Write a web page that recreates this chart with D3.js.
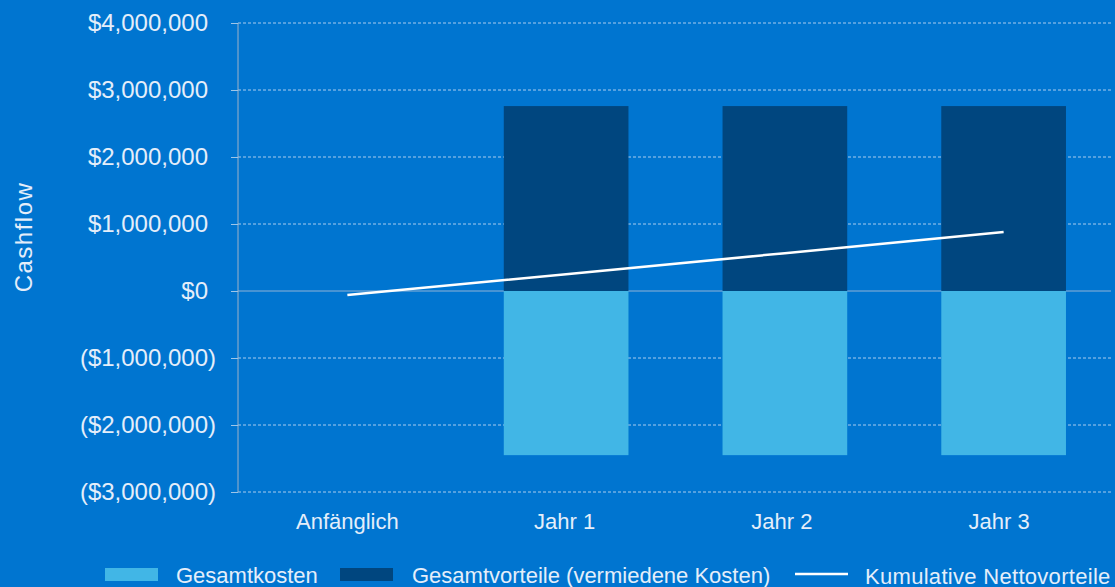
<!DOCTYPE html>
<html>
<head>
<meta charset="utf-8">
<script src="https://cdn.jsdelivr.net/npm/d3@7"></script>
<style>
  body { margin: 0; background: #0075d0; }
  svg { display: block; font-family: "Liberation Sans", Arial, sans-serif; }
</style>
</head>
<body>
<svg></svg>
<script>
// Data
const categories = ['Anfänglich', 'Jahr 1', 'Jahr 2', 'Jahr 3'];
const kosten = [0, -2450000, -2450000, -2450000];
const vorteile = [0, 2760000, 2760000, 2760000];
const kumulativ = [-60000, 250000, 565000, 880000];
const yTicks = [-3000000, -2000000, -1000000, 0, 1000000, 2000000, 3000000, 4000000];

const width = 1115, height = 587;
const margin = {top: 23, right: 2, bottom: 95, left: 238};
const textColor = '#e4eefa';

const svg = d3.select('svg')
    .attr('width', width)
    .attr('height', height);

svg.append('rect').attr('width', width).attr('height', height).attr('fill', '#0075d0');

const x = d3.scaleBand()
    .domain(categories)
    .range([margin.left, width - margin.right])
    .padding(0);

const y = d3.scaleLinear()
    .domain([-3000000, 4000000])
    .range([height - margin.bottom, margin.top]);

const fmt = v => {
    const s = '$' + d3.format(',')(Math.abs(v));
    return v < 0 ? '(' + s + ')' : s;
};

// Gridlines
svg.append('g')
    .selectAll('line')
    .data(yTicks)
    .enter()
    .append('line')
    .attr('x1', margin.left)
    .attr('x2', width - 4)
    .attr('y1', d => y(d))
    .attr('y2', d => y(d))
    .attr('stroke', d => d === 0 ? '#8fb3d6' : '#a9cdef')
    .attr('stroke-width', 1)
    .attr('stroke-dasharray', d => d === 0 ? null : '3,2');

// Y axis
const yAxis = svg.append('g')
    .attr('transform', `translate(${margin.left},0)`)
    .call(d3.axisLeft(y).tickValues(yTicks).tickFormat(fmt).tickSize(7).tickPadding(15));
yAxis.select('.domain').attr('stroke', '#9fb3c8').attr('d', `M0,${y(4000000)}V${y(-3000000)}`);
yAxis.selectAll('.tick line').attr('stroke', '#9fc6e8');
yAxis.selectAll('text')
    .attr('fill', textColor)
    .attr('font-size', 24)
    .attr('font-family', '"Liberation Sans", Arial, sans-serif')
    .attr('dx', d => d < 0 ? 0 : -8);

// Bars
const barW = x.bandwidth() * 0.57;
svg.append('g')
    .selectAll('rect')
    .data(categories.map((c, i) => ({c, v: kosten[i]})).filter(d => d.v !== 0))
    .enter()
    .append('rect')
    .attr('x', d => x(d.c) + (x.bandwidth() - barW) / 2)
    .attr('width', barW)
    .attr('y', y(0))
    .attr('height', d => y(d.v) - y(0))
    .attr('fill', '#41b6e6');

svg.append('g')
    .selectAll('rect')
    .data(categories.map((c, i) => ({c, v: vorteile[i]})).filter(d => d.v !== 0))
    .enter()
    .append('rect')
    .attr('x', d => x(d.c) + (x.bandwidth() - barW) / 2)
    .attr('width', barW)
    .attr('y', d => y(d.v))
    .attr('height', d => y(0) - y(d.v))
    .attr('fill', '#00467f');

// Line
const line = d3.line()
    .x((d, i) => x(categories[i]) + x.bandwidth() / 2)
    .y(d => y(d));
svg.append('path')
    .datum(kumulativ)
    .attr('d', line)
    .attr('fill', 'none')
    .attr('stroke', 'white')
    .attr('stroke-width', 2.5);

// X labels
svg.append('g')
    .selectAll('text')
    .data(categories)
    .enter()
    .append('text')
    .attr('x', (d, i) => x(d) + x.bandwidth() / 2 - i * 1.5)
    .attr('y', 529)
    .attr('text-anchor', 'middle')
    .attr('fill', textColor)
    .attr('font-size', 22)
    .text(d => d);

// Y title
svg.append('text')
    .attr('transform', 'translate(32,237) rotate(-90)')
    .attr('text-anchor', 'middle')
    .attr('fill', textColor)
    .attr('font-size', 24)
    .attr('letter-spacing', 1.5)
    .text('Cashflow');

// Legend
const legend = svg.append('g');
legend.append('rect').attr('x', 105).attr('y', 568).attr('width', 53).attr('height', 13).attr('fill', '#41b6e6');
legend.append('text').attr('x', 176).attr('y', 583).attr('fill', textColor).attr('font-size', 22).text('Gesamtkosten');
legend.append('rect').attr('x', 340).attr('y', 568).attr('width', 53).attr('height', 13).attr('fill', '#00467f');
legend.append('text').attr('x', 412).attr('y', 583).attr('fill', textColor).attr('font-size', 22).text('Gesamtvorteile (vermiedene Kosten)');
legend.append('line').attr('x1', 795).attr('x2', 848).attr('y1', 574).attr('y2', 574).attr('stroke', 'white').attr('stroke-width', 2.5);
legend.append('text').attr('x', 865).attr('y', 584).attr('fill', textColor).attr('font-size', 22).attr('letter-spacing', 0.3).text('Kumulative Nettovorteile');
</script>
</body>
</html>
